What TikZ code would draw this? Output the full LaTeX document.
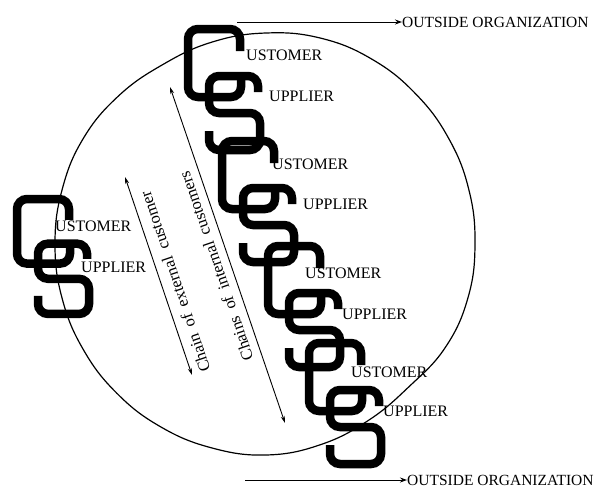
\documentclass[tikz,border=0pt]{standalone}
\usepackage{fontspec}
\setmainfont{Liberation Serif}
\usetikzlibrary{arrows.meta}
\begin{document}
\begin{tikzpicture}[x=1pt,y=-1pt,
  glyph/.style={line width=8.5pt, rounded corners=10pt},
  lbl/.style={font=\fontsize{16}{16}\selectfont, anchor=west, inner sep=0pt},
  org/.style={font=\fontsize{15.5}{16}\selectfont, anchor=west, inner sep=0pt},
  rot/.style={font=\fontsize{16.5}{16.5}\selectfont, inner sep=0pt},
  conn/.style={line width=1pt, -{Stealth[length=7pt,width=5pt]}},
  dbl/.style={line width=0.9pt, {Stealth[length=7pt,width=4pt]}-{Stealth[length=7pt,width=4pt]}},
  pics/cspair/.style={code={
    \draw[glyph] (52,22) -- (52,0) -- (0,0) -- (0,68) -- (53,68) -- (53,50);
    \draw[glyph] (70,63) -- (70,47) -- (21,47) -- (21,84) -- (72,84) -- (72,121) -- (21,121) -- (21,102);
  }}
]
\useasboundingbox (0,0) rectangle (613,488);
\fill[white] (0,0) rectangle (613,488);
% hand-drawn circle
\begin{scope}[shift={(266,244)}]
\draw[line width=1.2pt] plot[smooth cycle, tension=0.7] coordinates {
  (0:209) (15:209) (30:207) (45:202) (60:204) (75:208) (90:211) (105:211)
  (120:211) (135:211) (150:211) (165:211) (180:211) (195:211) (210:211)
  (225:209) (240:207) (255:209) (270:211) (285:213) (300:213) (315:212)
  (330:211) (345:210)};
\end{scope}
% C-S chain links
\pic[yscale=0.95] at (17,199) {cspair};
\pic at (188,29) {cspair};
\pic at (222,141) {cspair};
\pic at (268,246) {cspair};
\pic at (309,343) {cspair};
% labels
\node[lbl] (c0) at (55,226) {USTOMER};
\node[lbl] (s0) at (81,267) {UPPLIER};
\node[lbl] (c1) at (246,55) {USTOMER};
\node[lbl] (s1) at (269,96) {UPPLIER};
\node[lbl] (c2) at (272,164) {USTOMER};
\node[lbl] (s2) at (303,204) {UPPLIER};
\node[lbl] (c3) at (305,273) {USTOMER};
\node[lbl] (s3) at (342,314) {UPPLIER};
\node[lbl] (c4) at (351,372) {USTOMER};
\node[lbl] (s4) at (383,411) {UPPLIER};
% outside organization
\coordinate (t0) at (237,22);
\node[org] (top) at (402,22) {OUTSIDE ORGANIZATION};
\draw[conn] (t0) -- (top.west);
\coordinate (b0) at (245,480);
\node[org] (bot) at (407,480) {OUTSIDE ORGANIZATION};
\draw[conn] (b0) -- (bot.west);
% chains
\coordinate (e1) at (125,177);
\coordinate (e2) at (192,375);
\draw[dbl] (e1) -- (e2);
\node[rot, rotate=108.7] (ext) at (175,282) {Chain\hspace{0.45em}of\hspace{0.45em}external\hspace{0.45em}customer};
\coordinate (i1) at (170,87);
\coordinate (i2) at (285,423);
\draw[dbl] (i1) -- (i2);
\node[rot, rotate=108.9] (int) at (216,266) {Chains\hspace{0.45em}of\hspace{0.45em}internal\hspace{0.45em}customers};
\end{tikzpicture}
\end{document}
